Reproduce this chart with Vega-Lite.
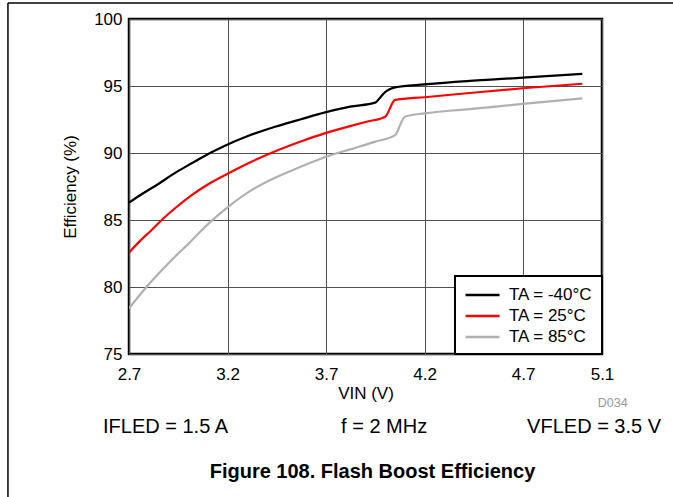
{
  "$schema": "https://vega.github.io/schema/vega-lite/v6.json",
  "width": 473,
  "height": 335,
  "autosize": {"type": "none"},
  "padding": {"left": 129, "top": 19, "right": 71, "bottom": 143},
  "background": "white",
  "config": {
    "font": "Liberation Sans",
    "view": {"stroke": "black", "strokeWidth": 2.5},
    "legend": {"strokeWidth": 2}
  },
  "layer": [
    {
      "data": {"values": [
        {"v": 2.7, "e": 86.3, "s": "TA = -40°C"},
        {"v": 2.77, "e": 86.98, "s": "TA = -40°C"},
        {"v": 2.849, "e": 87.69, "s": "TA = -40°C"},
        {"v": 2.93, "e": 88.48, "s": "TA = -40°C"},
        {"v": 3.018, "e": 89.23, "s": "TA = -40°C"},
        {"v": 3.111, "e": 90.0, "s": "TA = -40°C"},
        {"v": 3.187, "e": 90.55, "s": "TA = -40°C"},
        {"v": 3.3, "e": 91.25, "s": "TA = -40°C"},
        {"v": 3.441, "e": 91.96, "s": "TA = -40°C"},
        {"v": 3.568, "e": 92.5, "s": "TA = -40°C"},
        {"v": 3.695, "e": 93.03, "s": "TA = -40°C"},
        {"v": 3.822, "e": 93.46, "s": "TA = -40°C"},
        {"v": 3.949, "e": 93.76, "s": "TA = -40°C"},
        {"v": 3.975, "e": 94.15, "s": "TA = -40°C"},
        {"v": 4.0, "e": 94.55, "s": "TA = -40°C"},
        {"v": 4.025, "e": 94.78, "s": "TA = -40°C"},
        {"v": 4.05, "e": 94.9, "s": "TA = -40°C"},
        {"v": 4.2, "e": 95.12, "s": "TA = -40°C"},
        {"v": 4.414, "e": 95.37, "s": "TA = -40°C"},
        {"v": 4.698, "e": 95.62, "s": "TA = -40°C"},
        {"v": 5.0, "e": 95.9, "s": "TA = -40°C"},

        {"v": 2.7, "e": 82.57, "s": "TA = 25°C"},
        {"v": 2.76, "e": 83.5, "s": "TA = 25°C"},
        {"v": 2.815, "e": 84.25, "s": "TA = 25°C"},
        {"v": 2.866, "e": 85.0, "s": "TA = 25°C"},
        {"v": 2.94, "e": 85.95, "s": "TA = 25°C"},
        {"v": 3.018, "e": 86.85, "s": "TA = 25°C"},
        {"v": 3.1, "e": 87.65, "s": "TA = 25°C"},
        {"v": 3.2, "e": 88.45, "s": "TA = 25°C"},
        {"v": 3.3, "e": 89.2, "s": "TA = 25°C"},
        {"v": 3.424, "e": 90.02, "s": "TA = 25°C"},
        {"v": 3.568, "e": 90.84, "s": "TA = 25°C"},
        {"v": 3.7, "e": 91.5, "s": "TA = 25°C"},
        {"v": 3.822, "e": 92.01, "s": "TA = 25°C"},
        {"v": 3.91, "e": 92.35, "s": "TA = 25°C"},
        {"v": 4.0, "e": 92.71, "s": "TA = 25°C"},
        {"v": 4.05, "e": 93.96, "s": "TA = 25°C"},
        {"v": 4.2, "e": 94.16, "s": "TA = 25°C"},
        {"v": 4.414, "e": 94.46, "s": "TA = 25°C"},
        {"v": 4.698, "e": 94.83, "s": "TA = 25°C"},
        {"v": 5.0, "e": 95.17, "s": "TA = 25°C"},

        {"v": 2.7, "e": 78.41, "s": "TA = 85°C"},
        {"v": 2.79, "e": 80.02, "s": "TA = 85°C"},
        {"v": 2.86, "e": 81.15, "s": "TA = 85°C"},
        {"v": 2.933, "e": 82.26, "s": "TA = 85°C"},
        {"v": 3.0, "e": 83.2, "s": "TA = 85°C"},
        {"v": 3.06, "e": 84.1, "s": "TA = 85°C"},
        {"v": 3.12, "e": 84.95, "s": "TA = 85°C"},
        {"v": 3.2, "e": 85.95, "s": "TA = 85°C"},
        {"v": 3.33, "e": 87.3, "s": "TA = 85°C"},
        {"v": 3.441, "e": 88.15, "s": "TA = 85°C"},
        {"v": 3.568, "e": 88.95, "s": "TA = 85°C"},
        {"v": 3.7, "e": 89.72, "s": "TA = 85°C"},
        {"v": 3.822, "e": 90.27, "s": "TA = 85°C"},
        {"v": 3.95, "e": 90.85, "s": "TA = 85°C"},
        {"v": 4.05, "e": 91.34, "s": "TA = 85°C"},
        {"v": 4.1, "e": 92.71, "s": "TA = 85°C"},
        {"v": 4.2, "e": 92.96, "s": "TA = 85°C"},
        {"v": 4.414, "e": 93.26, "s": "TA = 85°C"},
        {"v": 4.698, "e": 93.66, "s": "TA = 85°C"},
        {"v": 5.0, "e": 94.08, "s": "TA = 85°C"}
      ]},
      "mark": {"type": "line", "strokeWidth": 2.2, "clip": true, "interpolate": "monotone"},
      "encoding": {
        "x": {
          "field": "v", "type": "quantitative",
          "scale": {"domain": [2.7, 5.1], "nice": false, "zero": false},
          "axis": {
            "values": [2.7, 3.2, 3.7, 4.2, 4.7, 5.1], "format": ".1f",
            "title": "VIN (V)", "grid": true, "gridColor": "#505050", "gridWidth": 1, "gridOpacity": 1,
            "domain": false, "ticks": false, "labelFlush": false,
            "labelFontSize": 17, "labelColor": "black", "labelPadding": 12,
            "titleFontSize": 17, "titleFontWeight": "normal", "titleColor": "black", "titlePadding": 3
          }
        },
        "y": {
          "field": "e", "type": "quantitative",
          "scale": {"domain": [75, 100], "nice": false, "zero": false},
          "axis": {
            "values": [75, 80, 85, 90, 95, 100],
            "title": "Efficiency (%)", "grid": true, "gridColor": "#505050", "gridWidth": 1, "gridOpacity": 1,
            "domain": false, "ticks": false,
            "labelFontSize": 17, "labelColor": "black", "labelPadding": 7,
            "titleFontSize": 17, "titleFontWeight": "normal", "titleColor": "black", "titlePadding": 14
          }
        },
        "color": {
          "field": "s", "type": "nominal",
          "scale": {"domain": ["TA = -40°C", "TA = 25°C", "TA = 85°C"], "range": ["#000000", "#ff0000", "#b0b0b0"]},
          "legend": {
            "title": null, "orient": "bottom-right", "offset": 0,
            "symbolType": "M-1,0H3", "symbolSize": 289, "symbolStrokeWidth": 2.5,
            "labelFontSize": 17, "labelColor": "black", "labelOffset": 25,
            "strokeColor": "black", "fillColor": "white", "padding": 9, "rowPadding": 3
          }
        }
      }
    },
    {
      "data": {"values": [{}]},
      "mark": {"type": "rule", "color": "black", "strokeWidth": 1.5},
      "encoding": {
        "x": {"datum": 2.0858, "type": "quantitative"},
        "x2": {"datum": 5.47},
        "y": {"datum": 101.194, "type": "quantitative"}
      }
    },
    {
      "data": {"values": [{}]},
      "mark": {"type": "rule", "color": "black", "strokeWidth": 1.5},
      "encoding": {
        "x": {"datum": 2.0858, "type": "quantitative"},
        "y": {"datum": 101.194, "type": "quantitative"},
        "y2": {"datum": 64.0}
      }
    },
    {
      "data": {"values": [{}]},
      "mark": {"type": "text", "align": "right", "baseline": "alphabetic", "fontSize": 12.5, "color": "#999999"},
      "encoding": {
        "x": {"datum": 5.2305, "type": "quantitative"},
        "y": {"datum": 71.07, "type": "quantitative"},
        "text": {"value": "D034"}
      }
    },
    {
      "data": {"values": [{}]},
      "mark": {"type": "text", "align": "left", "baseline": "alphabetic", "fontSize": 20, "color": "black"},
      "encoding": {
        "x": {"datum": 2.568, "type": "quantitative"},
        "y": {"datum": 69.1, "type": "quantitative"},
        "text": {"value": "IFLED = 1.5 A"}
      }
    },
    {
      "data": {"values": [{}]},
      "mark": {"type": "text", "align": "left", "baseline": "alphabetic", "fontSize": 20, "color": "black"},
      "encoding": {
        "x": {"datum": 3.776, "type": "quantitative"},
        "y": {"datum": 69.1, "type": "quantitative"},
        "text": {"value": "f = 2 MHz"}
      }
    },
    {
      "data": {"values": [{}]},
      "mark": {"type": "text", "align": "left", "baseline": "alphabetic", "fontSize": 20, "color": "black"},
      "encoding": {
        "x": {"datum": 4.72, "type": "quantitative"},
        "y": {"datum": 69.1, "type": "quantitative"},
        "text": {"value": "VFLED = 3.5 V"}
      }
    },
    {
      "data": {"values": [{}]},
      "mark": {"type": "text", "align": "center", "baseline": "alphabetic", "fontSize": 20, "fontWeight": "bold", "color": "black"},
      "encoding": {
        "x": {"datum": 3.9355, "type": "quantitative"},
        "y": {"datum": 65.75, "type": "quantitative"},
        "text": {"value": "Figure 108. Flash Boost Efficiency"}
      }
    }
  ]
}
